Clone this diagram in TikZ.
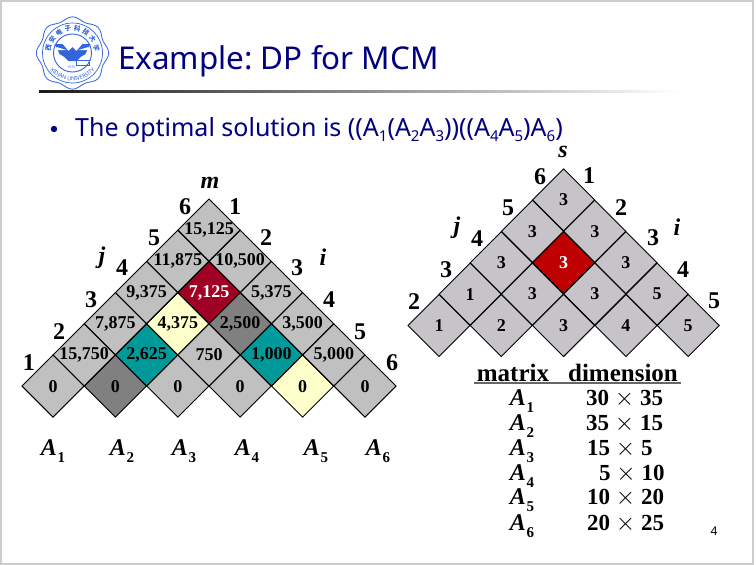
\documentclass[tikz,border=0pt]{standalone}
\usepackage{fontspec}
\setmainfont{Liberation Serif}
\newfontfamily\uifont{Noto Sans}
\newfontfamily\cjkfont{Noto Sans CJK SC}
\usetikzlibrary{shapes.geometric,decorations.text}
\definecolor{cellgray}{RGB}{192,192,192}
\definecolor{cellgrayb}{RGB}{198,196,200}
\definecolor{darkcell}{RGB}{128,128,128}
\definecolor{tealcell}{RGB}{0,153,153}
\definecolor{yellowcell}{RGB}{255,255,204}
\definecolor{crimson}{RGB}{160,0,35}
\definecolor{redcell}{RGB}{190,0,0}
\definecolor{navy}{RGB}{0,0,128}
\definecolor{sealblue}{RGB}{50,100,220}
\frenchspacing
\tikzset{
  x=1pt,y=-1pt,
  cell/.style={diamond,aspect=1,draw=black,line width=0.9pt,inner sep=0pt,minimum width=62.4pt,minimum height=62.4pt,fill=cellgray,font=\fontsize{18}{19}\selectfont\bfseries},
  cdark/.style={cell,fill=darkcell},
  cteal/.style={cell,fill=tealcell},
  cyel/.style={cell,fill=yellowcell},
  ccrim/.style={cell,fill=crimson,text=white},
  cellb/.style={cell,fill=cellgrayb},
  cred/.style={cell,fill=redcell,text=white},
  idx/.style={font=\fontsize{24}{25}\selectfont\bfseries,inner sep=0pt},
  ital/.style={font=\fontsize{24}{25}\selectfont\bfseries\itshape,inner sep=0pt},
  mat/.style={font=\fontsize{24}{25}\selectfont\bfseries\itshape,inner sep=0pt},
  hdr/.style={font=\fontsize{25}{26}\selectfont\bfseries,inner sep=0pt},
  dimtxt/.style={font=\fontsize{23}{24}\selectfont\bfseries,inner sep=0pt,anchor=base west},
}
\newcommand{\Asub}[1]{A\kern0.5pt\raisebox{-0.28em}{\fontsize{15}{15}\selectfont\upshape\bfseries #1}}
\newcommand{\bsub}[1]{\raisebox{-0.2em}{\fontsize{15}{15}\selectfont #1}}
\begin{document}
\begin{tikzpicture}
\useasboundingbox (0,0) rectangle (756,565);
\fill[white] (0,0) rectangle (756,565);
\draw[black!20,line width=2pt] (1,1) rectangle (753,564);
% logo
\begin{scope}[shift={(72.5,53)},sealblue]
  \draw[line width=0.8pt,fill=white] plot[smooth cycle,samples=73,domain=0:360] ({(34.5+1.7*cos(8*\x))*cos(\x)},{(34.5+1.7*cos(8*\x))*sin(\x)});
  \draw[line width=0.7pt] (0,0) circle (30);
  \draw[line width=0.9pt] (0,0) circle (19);
  \foreach \c [count=\k] in {西,安,电,子,科,技,大,学}{
    \pgfmathsetmacro{\ang}{-168+(\k-1)*22.3}
    \node[inner sep=0pt,font=\cjkfont\bfseries\fontsize{6.5}{7}\selectfont,rotate={-(\ang+90)}] at ({24.5*cos(\ang)},{24.5*sin(\ang)}) {\c};
  }
  \path[postaction={decorate,decoration={text along path,text align=center,
     text={|\uifont\fontsize{5.5}{6}\selectfont\bfseries\color{sealblue}|XIDIAN UNIVERSITY}}}]
     (-27,11) .. controls (-14,33) and (14,33) .. (27,11);
  \fill (0,-6) -- (-4,-2) -- (-10,-9) -- (-18,-9) -- (-15,-4) -- (-13,1) -- (-8,4) -- (-4,8) -- (4,8) -- (8,4) -- (13,1) -- (15,-4) -- (18,-9) -- (10,-9) -- (4,-2) -- cycle;
  \fill[white] (-16,-6) -- (-6,-3) -- (-15,-3) -- cycle (16,-6) -- (6,-3) -- (15,-3) -- cycle;
  \draw[line width=0.7pt] (4,7) rectangle (17,12);
  \node[inner sep=0pt,font=\uifont\fontsize{3.5}{4}\selectfont] at (-1,14) {1931};
\end{scope}
% title
\node[anchor=base west,inner sep=0pt,text=navy,font=\uifont\fontsize{31.4}{34}\selectfont] (title) at (118,69) {Example: DP for MCM};
\shade[left color=black!90,right color=white] (39,90) rectangle (680,92);
\fill[navy] (54,129) circle (3.2);
\node[anchor=base west,inner sep=0pt,text=navy,font=\uifont\fontsize{25}{26}\selectfont] (bul) at (75,136) {The optimal solution is ((A\bsub{1}(A\bsub{2}A\bsub{3}))((A\bsub{4}A\bsub{5})A\bsub{6})};
% left triangle m
\foreach \r/\k/\val/\sty in {
 0/0/0/cell,0/1/0/cdark,0/2/0/cell,0/3/0/cell,0/4/0/cyel,0/5/0/cell,
 1/0/{15,750}/cell,1/1/{2,625}/cteal,1/2/750/cell,1/3/{1,000}/cteal,1/4/{5,000}/cell,
 2/0/{7,875}/cell,2/1/{4,375}/cyel,2/2/{2,500}/cdark,2/3/{3,500}/cell,
 3/0/{9,375}/cell,3/1/{7,125}/ccrim,3/2/{5,375}/cell,
 4/0/{11,875}/cell,4/1/{10,500}/cell,
 5/0/{15,125}/cell}{
  \pgfmathsetmacro{\cx}{53+62.4*\k+31.2*\r}
  \pgfmathsetmacro{\cy}{386.1-31.2*\r}
  \node[\sty] (m\r\k) at (\cx,\cy) {\makebox[0pt]{\val}};
}
\foreach \t/\x/\y/\n in {1/29/363/a,2/59/332/b,3/91/300/c,4/122/268/d,5/154/238/e,6/185/207/f,1/235/207/g,2/266/238/h,3/297/268/k,4/329/300/l,5/360/332/n,6/392/363/o}
  \node[idx] (ml\n) at (\x,\y) {\t};
\node[ital] (mj) at (102,258) {j};
\node[ital] (mi) at (323,257) {i};
\node[ital] (mm) at (210,183) {m};
\foreach \i/\x in {1/53,2/122,3/184,4/247,5/316,6/378}
  \node[mat] (a\i) at (\x,451) {\Asub{\i}};
% right triangle s
\foreach \r/\k/\val/\sty in {
 0/0/1/cellb,0/1/2/cellb,0/2/3/cellb,0/3/4/cellb,0/4/5/cellb,
 1/0/1/cellb,1/1/3/cellb,1/2/3/cellb,1/3/5/cellb,
 2/0/3/cellb,2/1/3/cred,2/2/3/cellb,
 3/0/3/cellb,3/1/3/cellb,
 4/0/3/cellb}{
  \pgfmathsetmacro{\cx}{439+62.3*\k+31.15*\r}
  \pgfmathsetmacro{\cy}{325.5-31.4*\r}
  \node[\sty] (s\r\k) at (\cx,\cy) {\val};
}
\foreach \t/\x/\y/\n in {2/414/302/a,3/446/270/b,4/477/239/c,5/508/208/d,6/540/177/e,1/589/176/f,2/621/208/g,3/653/238/h,4/683/270/k,5/714/301/l}
  \node[idx] (sl\n) at (\x,\y) {\t};
\node[ital] (sj) at (457,228) {j};
\node[ital] (si) at (677,227) {i};
\node[ital] (ss) at (563,152) {s};
% table
\node[hdr] (h1) at (513,373) {matrix};
\node[hdr] (h2) at (623,373) {dimension};
\draw[black!60,line width=1.2pt] (474,383) -- (681,383);
\foreach \i/\y/\dx/\txt in {1/398/586/{30 $\times$ 35},2/423/586/{35 $\times$ 15},3/448/587/{15 $\times$ 5},4/473/599/{5 $\times$ 10},5/497/587/{10 $\times$ 20},6/523/587/{20 $\times$ 25}}{
  \node[mat] (t\i) at (522,\y+3) {\Asub{\i}};
  \node[dimtxt] (d\i) at (\dx,\y+7) {\txt};
}
\node[inner sep=0pt,font=\uifont\fontsize{12}{13}\selectfont] (pg) at (714,531) {4};
\end{tikzpicture}
\end{document}
